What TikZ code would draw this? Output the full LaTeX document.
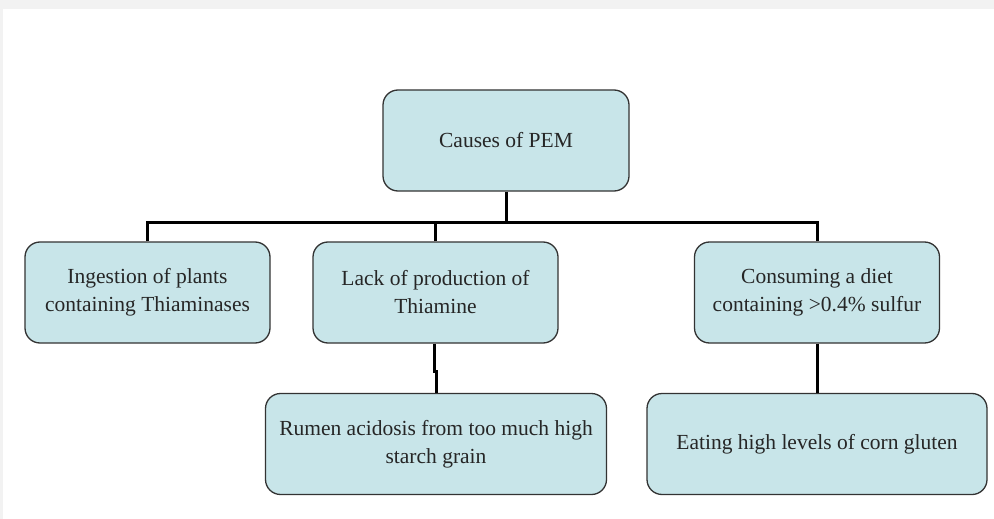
\documentclass[tikz,border=0pt]{standalone}
\usepackage{fontspec}
\setmainfont{Liberation Serif}
\usetikzlibrary{calc}

\definecolor{boxfill}{HTML}{C8E5E9}
\definecolor{boxline}{HTML}{333333}
\definecolor{pageband}{HTML}{F2F2F2}

\tikzset{
  causebox/.style = {draw=boxline, line width=1.3pt, fill=boxfill,
    rounded corners=15pt, align=center, text=black!85,
    font=\fontsize{21.5}{28}\selectfont, inner sep=0pt},
  smallbox/.style = {causebox, minimum width=245pt, minimum height=101pt},
  widebox/.style = {causebox, minimum width=341pt, minimum height=101pt},
  link/.style = {line width=3pt, black}
}

\begin{document}
\begin{tikzpicture}[x=1pt, y=-1pt]
  \useasboundingbox (0,0) rectangle (994,519);
  % page edges
  \fill[pageband] (0,0) rectangle (994,9);
  \fill[pageband] (0,0) rectangle (3,519);

  % top
  \node[smallbox, minimum width=246pt] (root) at (506,140.5) {Causes of PEM};

  % second row
  \node[smallbox] (plants) at (147.5,292.5)
    {Ingestion of plants\\containing Thiaminases};
  \node[smallbox] (lack) at (435.5,292.5)
    {Lack of production of\\Thiamine};
  \node[smallbox] (sulfur) at (817,292.5)
    {Consuming a diet\\containing >0.4\% sulfur};

  % third row
  \node[widebox] (acidosis) at (436,444)
    {Rumen acidosis from too much high\\starch grain};
  \node[widebox, minimum width=340pt] (gluten) at (817,444)
    {Eating high levels of corn gluten};

  % connectors
  \coordinate (bus) at (506,222);
  \draw[link] (root.south) -- (bus);
  \draw[link] (plants.north) |- (bus);
  \draw[link] (sulfur.north) |- (bus);
  \draw[link] (lack.north) -- (lack.north |- bus);
  \draw[link] ([xshift=-1.5pt]lack.south) -- ++(0,28) -| (acidosis.north);
  \draw[link] (sulfur.south) -- (gluten.north);
\end{tikzpicture}
\end{document}
